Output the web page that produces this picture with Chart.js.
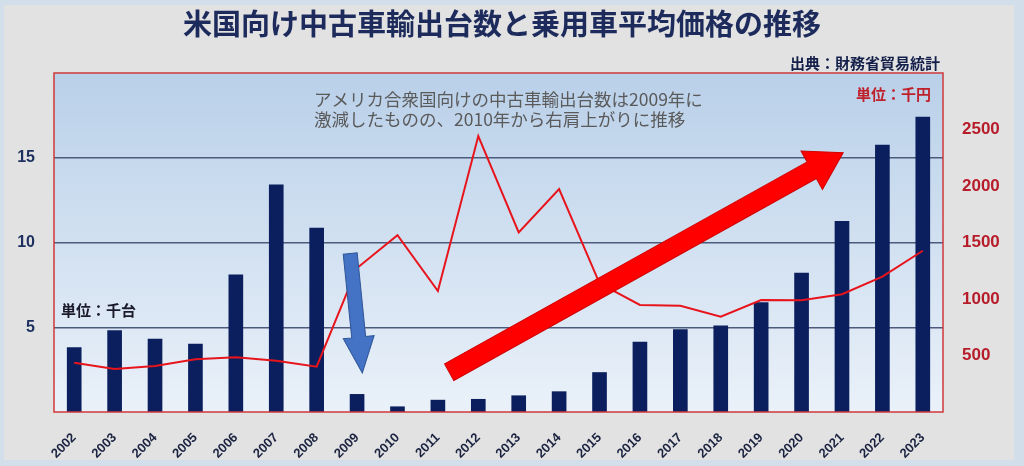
<!DOCTYPE html>
<html lang="ja">
<head>
<meta charset="utf-8">
<title>米国向け中古車輸出台数と乗用車平均価格の推移</title>
<script src="https://cdn.jsdelivr.net/npm/chart.js"></script>
<style>
  html, body { margin: 0; padding: 0; background: #e2e2e2; }
  canvas { display: block; }
</style>
</head>
<body>
<canvas id="usedCarChart" width="1024" height="466"></canvas>
<script>
// 年
const years = ['2002', '2003', '2004', '2005', '2006', '2007', '2008', '2009', '2010', '2011', '2012',
  '2013', '2014', '2015', '2016', '2017', '2018', '2019', '2020', '2021', '2022', '2023'];

// 米国向け中古車輸出台数（千台）
const exportUnits = [3.8, 4.8, 4.3, 4.0, 8.1, 13.4, 10.85, 1.04, 0.31, 0.7, 0.75,
  0.96, 1.2, 2.33, 4.12, 4.86, 5.08, 6.45, 8.2, 11.25, 15.75, 17.4];

// 乗用車平均価格（千円）
const avgPrice = [436, 380, 407, 466, 484, 454, 401, 1274, 1564, 1071, 2442,
  1590, 1973, 1139, 947, 941, 843, 991, 988, 1042, 1198, 1427];

// 目盛り
const unitTicks = [5, 10, 15];
const priceTicks = [500, 1000, 1500, 2000, 2500];

const chartTitle = '米国向け中古車輸出台数と乗用車平均価格の推移';
const sourceNote = '出典：財務省貿易統計';
const unitLeft = '単位：千台';
const unitRight = '単位：千円';
const commentLines = ['アメリカ合衆国向けの中古車輸出台数は2009年に', '激減したものの、2010年から右肩上がりに推移'];

const jp = '"Noto Sans CJK JP", sans-serif';

function drawArrow(ctx, x1, y1, x2, y2, shaftW, headW, headL, fill, stroke) {
  const ang = Math.atan2(y2 - y1, x2 - x1);
  const len = Math.hypot(x2 - x1, y2 - y1);
  ctx.save();
  ctx.translate(x1, y1);
  ctx.rotate(ang);
  ctx.beginPath();
  ctx.moveTo(0, -shaftW / 2);
  ctx.lineTo(len - headL, -shaftW / 2);
  ctx.lineTo(len - headL, -headW / 2);
  ctx.lineTo(len, 0);
  ctx.lineTo(len - headL, headW / 2);
  ctx.lineTo(len - headL, shaftW / 2);
  ctx.lineTo(0, shaftW / 2);
  ctx.closePath();
  ctx.fillStyle = fill;
  ctx.fill();
  ctx.lineWidth = 1;
  ctx.strokeStyle = stroke;
  ctx.stroke();
  ctx.restore();
}

const decorations = {
  id: 'decorations',
  beforeDraw(chart) {
    const { ctx, chartArea: a, width, height } = chart;
    ctx.save();
    ctx.fillStyle = '#d3deeb';
    ctx.fillRect(0, 0, width, height);
    ctx.fillStyle = '#e2e2e2';
    ctx.fillRect(4, 5, width - 14, height - 11);

    const g = ctx.createLinearGradient(0, a.top, 0, a.bottom);
    g.addColorStop(0, '#b9d0e9');
    g.addColorStop(1, '#eaf1f9');
    ctx.fillStyle = g;
    ctx.fillRect(a.left, a.top, a.right - a.left, a.bottom - a.top);
    ctx.restore();
  },
  afterDatasetsDraw(chart) {
    const { ctx } = chart;
    const x = chart.scales.x, y = chart.scales.yUnits;
    // 2009年の急減を示す青い矢印
    drawArrow(ctx, x.getPixelForValue(6.83), y.getPixelForValue(9.35),
      x.getPixelForValue(7.13), y.getPixelForValue(2.3), 14, 31, 36, '#4472c4', '#2f5597');
    // 右肩上がりの赤い矢印
    drawArrow(ctx, x.getPixelForValue(9.28), y.getPixelForValue(2.35),
      x.getPixelForValue(19.03), y.getPixelForValue(15.3), 19, 44, 36, '#ff0000', '#d00000');
  },
  afterDraw(chart) {
    const { ctx, chartArea: a } = chart;
    ctx.save();
    ctx.strokeStyle = '#d0383a';
    ctx.lineWidth = 1.5;
    ctx.strokeRect(a.left, a.top, a.right - a.left, a.bottom - a.top);

    ctx.textBaseline = 'middle';
    ctx.textAlign = 'center';
    ctx.fillStyle = '#1d2b5c';
    ctx.font = 'bold 29px ' + jp;
    ctx.fillText(chartTitle, 502, 24);

    ctx.textAlign = 'right';
    ctx.fillStyle = '#14204a';
    ctx.font = 'bold 15px ' + jp;
    ctx.fillText(sourceNote, 940, 63);

    ctx.textAlign = 'left';
    ctx.fillStyle = '#1a1a2a';
    ctx.font = 'bold 15px ' + jp;
    ctx.fillText(unitLeft, 61, 310);

    ctx.fillStyle = '#c0202a';
    ctx.fillText(unitRight, 856, 94);

    ctx.fillStyle = '#5a5a5a';
    ctx.font = '17.5px ' + jp;
    ctx.fillText(commentLines[0], 314, 99);
    ctx.fillText(commentLines[1], 314, 119);
    ctx.restore();
  }
};

new Chart(document.getElementById('usedCarChart').getContext('2d'), {
  data: {
    labels: years,
    datasets: [
      {
        type: 'line',
        label: '乗用車平均価格',
        data: avgPrice,
        yAxisID: 'yPrice',
        borderColor: '#e8141c',
        borderWidth: 2,
        pointRadius: 0,
        tension: 0,
        order: 0
      },
      {
        type: 'bar',
        label: '中古車輸出台数',
        data: exportUnits,
        yAxisID: 'yUnits',
        backgroundColor: '#0b1f5e',
        barThickness: 14,
        order: 1
      }
    ]
  },
  options: {
    responsive: false,
    animation: false,
    devicePixelRatio: 1,
    layout: { padding: { top: 73, left: 0, right: 0, bottom: 0 } },
    plugins: {
      legend: { display: false },
      tooltip: { enabled: false },
      title: { display: false }
    },
    scales: {
      x: {
        grid: { display: false },
        border: { display: false },
        ticks: {
          autoSkip: false,
          minRotation: 45,
          maxRotation: 45,
          padding: 10,
          color: '#1b2340',
          font: { family: '"Liberation Sans", sans-serif', weight: 'bold', size: 13 }
        },
        afterFit(scale) { scale.height = 54; }
      },
      yUnits: {
        position: 'left',
        min: 0,
        max: 20,
        afterBuildTicks(scale) { scale.ticks = unitTicks.map(v => ({ value: v })); },
        grid: { color: '#4c5b7c', lineWidth: 1.5, drawTicks: false },
        border: { display: false },
        ticks: {
          padding: 19,
          color: '#1c2f5e',
          font: { family: '"Liberation Sans", sans-serif', weight: 'bold', size: 16 }
        },
        afterFit(scale) { scale.width = 54; }
      },
      yPrice: {
        position: 'right',
        min: 0,
        max: 3000,
        afterBuildTicks(scale) { scale.ticks = priceTicks.map(v => ({ value: v })); },
        grid: { display: false, drawTicks: false },
        border: { display: false },
        ticks: {
          padding: 19,
          color: '#b71c2a',
          font: { family: '"Liberation Sans", sans-serif', weight: 'bold', size: 17 },
          callback: v => String(v)
        },
        afterFit(scale) { scale.width = 81; }
      }
    }
  },
  plugins: [decorations]
});
</script>
</body>
</html>
